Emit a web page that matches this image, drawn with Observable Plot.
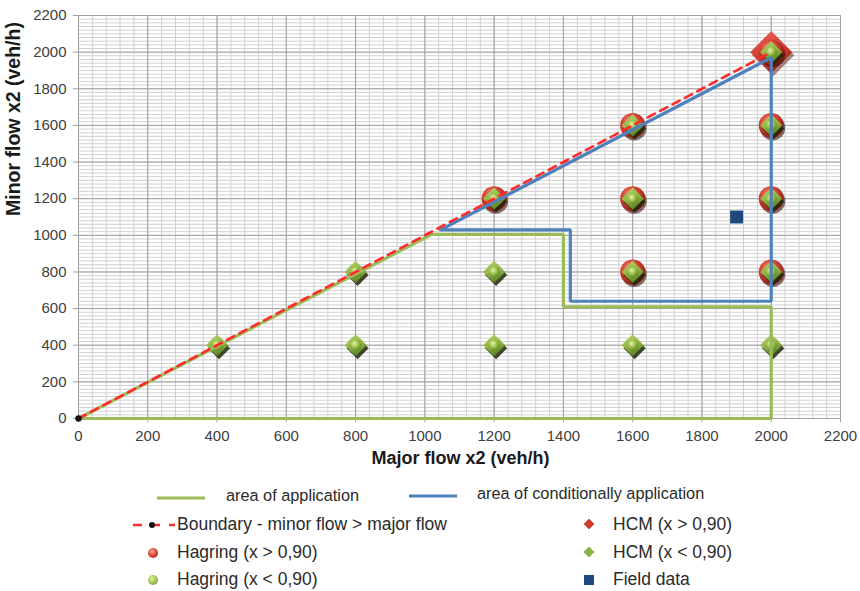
<!DOCTYPE html>
<html><head><meta charset="utf-8">
<script src="https://cdn.jsdelivr.net/npm/d3@7"></script>
<script src="https://cdn.jsdelivr.net/npm/@observablehq/plot@0.6"></script>
<style>
body{margin:0;background:#fff;font-family:"Liberation Sans",Arial,sans-serif;}
#wrap{position:relative;width:860px;height:591px;overflow:hidden;}
.lg{position:absolute;font-size:17.5px;color:#2a2a2a;line-height:1;white-space:nowrap;transform:translateY(-50%);}
.lg.small{font-size:16.3px;}
.sw{position:absolute;transform:translate(-50%,-50%);}
</style></head><body><div id="wrap"></div>
<script>
// ---- data ----
const xTicks = [0,200,400,600,800,1000,1200,1400,1600,1800,2000,2200];
const yTicks = [0,200,400,600,800,1000,1200,1400,1600,1800,2000,2200];
const applicationX = [0,1020,1400,1400,2000,2000,0];
const applicationY = [0,1005,1005,610,610,0,0];
const conditionalX = [1045,1420,1420,2000,2000,1045];
const conditionalY = [1030,1030,640,640,1970,1030];
const boundaryX = [0,2000];
const boundaryY = [0,2000];
const hagringHigh = [[1200,1200],[1600,1600],[1600,1200],[1600,800],[2000,2000],[2000,1600],[2000,1200],[2000,800]];
const hagringLow = [[400,400],[800,400],[800,800],[1200,400],[1200,800],[1600,400],[2000,400]];
const hcmHigh = [[2000,2000]];
const hcmLow = [[400,400],[800,400],[800,800],[1200,400],[1200,800],[1200,1200],[1600,400],[1600,800],[1600,1200],[1600,1600],[2000,400],[2000,800],[2000,1200],[2000,1600],[2000,2000]];
const fieldData = [[1900,1100]];
const legendLabels = ["area of application","area of conditionally application","Boundary - minor flow > major flow","Hagring (x > 0,90)","Hagring (x < 0,90)","HCM (x > 0,90)","HCM (x < 0,90)","Field data"];

const toPts = (xs, ys) => xs.map((x, i) => ({x, y: ys[i]}));
const GREEN = "#9bbb59", BLUE = "#4f81bd", RED = "#ff2a2a", NAVY = "#1f497d";
const tickFont = "'Liberation Sans', Arial, sans-serif";

const chart = Plot.plot({
  width: 860, height: 480,
  marginLeft: 78, marginRight: 20, marginTop: 15, marginBottom: 62,
  x: {domain: [0, 2200]},
  y: {domain: [0, 2200]},
  style: {fontFamily: "'Liberation Sans', Arial, sans-serif", background: "#fff", overflow: "visible"},
  marks: [
    Plot.gridX({interval: 40, stroke: "#d0d0d0", strokeOpacity: 1}),
    Plot.gridY({interval: 20, stroke: "#d0d0d0", strokeOpacity: 1}),
    Plot.gridX(xTicks, {stroke: "#a0a0a0", strokeOpacity: 1}),
    Plot.gridY(yTicks, {stroke: "#a0a0a0", strokeOpacity: 1}),
    Plot.axisX(xTicks, {tickSize: 4, tickPadding: 8, fontSize: 15, fontFamily: tickFont, color: "#404040", stroke: "#a0a0a0", tickFormat: d => String(d), label: null}),
    Plot.axisY(yTicks, {tickSize: 5, tickPadding: 7, fontSize: 15, fontFamily: tickFont, color: "#404040", stroke: "#a0a0a0", tickFormat: d => String(d), label: null}),
    // HCM > 0.90 (large red diamond)
    Plot.dot(hcmHigh, {x: d => d[0], y: d => d[1], symbol: "diamond2", r: 19, fill: "#5a120c", fillOpacity: 0.5, dx: 2, dy: 3}),
    Plot.dot(hcmHigh, {x: d => d[0], y: d => d[1], symbol: "diamond2", r: 19, fill: "url(#gDiaRed)"}),
    // Hagring > 0.90 (red spheres)
    Plot.dot(hagringHigh, {x: d => d[0], y: d => d[1], r: 12.5, fill: "#3a0d08", fillOpacity: 0.6, dx: 1.5, dy: 2.5}),
    Plot.dot(hagringHigh, {x: d => d[0], y: d => d[1], r: 12.5, fill: "url(#gRed)"}),
    // Hagring < 0.90 (green spheres)
    Plot.dot(hagringLow, {x: d => d[0], y: d => d[1], r: 8, fill: "url(#gGreen)"}),
    // HCM < 0.90 (green diamonds)
    Plot.dot(hcmLow, {x: d => d[0], y: d => d[1], symbol: "diamond2", r: 10, fill: "#1e260c", fillOpacity: 0.85, dx: 2, dy: 3}),
    Plot.dot(hcmLow, {x: d => d[0], y: d => d[1], symbol: "diamond2", r: 10, fill: "url(#gDiaGreen)"}),
    Plot.dot(hcmLow, {x: d => d[0], y: d => d[1], r: 5.5, fill: "url(#gGreen)"}),
    // Field data
    Plot.dot(fieldData, {x: d => d[0], y: d => d[1], symbol: "square", r: 7.3, fill: NAVY}),
    // Areas and boundary
    Plot.line(toPts(applicationX, applicationY), {x: "x", y: "y", stroke: GREEN, strokeWidth: 3.2, strokeLinejoin: "miter"}),
    Plot.line(toPts(conditionalX, conditionalY), {x: "x", y: "y", stroke: BLUE, strokeWidth: 3.2, strokeLinejoin: "miter"}),
    Plot.line(toPts(boundaryX, boundaryY), {x: "x", y: "y", stroke: RED, strokeWidth: 2.6, strokeDasharray: "8,6"}),
    Plot.dot([[boundaryX[0], boundaryY[0]]], {x: d => d[0], y: d => d[1], r: 3.2, fill: "#111"}),
    // axis titles
    Plot.text(["Major flow x2 (veh/h)"], {text: d => d, frameAnchor: "bottom", dy: 45, dx: 1, fontSize: 18, fontWeight: "bold", fill: "#1a1a1a"}),
    Plot.text(["Minor flow x2 (veh/h)"], {text: d => d, frameAnchor: "left", dx: -65, dy: -1, rotate: -90, fontSize: 19.5, fontWeight: "bold", fill: "#1a1a1a"})
  ]
});

// gradients for 3D-looking markers
const svg = d3.select(chart);
const defs = svg.insert("defs", ":first-child");
function radial(id, stops) {
  const g = defs.append("radialGradient").attr("id", id).attr("cx", "40%").attr("cy", "35%").attr("r", "65%");
  stops.forEach(([o, c]) => g.append("stop").attr("offset", o).attr("stop-color", c));
}
function linear(id, stops) {
  const g = defs.append("linearGradient").attr("id", id).attr("x1", "0").attr("y1", "0").attr("x2", "0.4").attr("y2", "1");
  stops.forEach(([o, c]) => g.append("stop").attr("offset", o).attr("stop-color", c));
}
radial("gGreen", [["0%", "#e4f2a8"], ["45%", "#a6c857"], ["100%", "#5f8a22"]]);
radial("gRed", [["0%", "#f6a896"], ["45%", "#dc4a3a"], ["100%", "#8e1d12"]]);
linear("gDiaGreen", [["0%", "#b8d66c"], ["60%", "#8fb444"], ["100%", "#5d8424"]]);
linear("gDiaRed", [["0%", "#ec6a5a"], ["60%", "#d23a2c"], ["100%", "#a42418"]]);

const wrap = document.getElementById("wrap");
wrap.appendChild(chart);

// ---- legend (HTML below the SVG) ----
function addText(txt, x, y, cls) {
  const d = document.createElement("div"); d.className = "lg" + (cls ? " " + cls : ""); d.textContent = txt;
  d.style.left = x + "px"; d.style.top = y + "px"; wrap.appendChild(d);
}
function addSwatch(html, x, y) {
  const d = document.createElement("div"); d.className = "sw"; d.innerHTML = html;
  d.style.left = x + "px"; d.style.top = y + "px"; wrap.appendChild(d);
}
const lineSw = c => `<svg width="48" height="4"><line x1="0" x2="48" y1="2" y2="2" stroke="${c}" stroke-width="3"/></svg>`;
addSwatch(lineSw(GREEN), 181, 495); addText(legendLabels[0], 226, 495, "small");
addSwatch(lineSw(BLUE), 433, 493); addText(legendLabels[1], 477, 493, "small");
addSwatch(`<svg width="42" height="10"><line x1="0" x2="42" y1="5" y2="5" stroke="${RED}" stroke-width="2.5" stroke-dasharray="9,9"/><circle cx="19" cy="5" r="3" fill="#111"/></svg>`, 154, 525);
addText(legendLabels[2], 177, 525);
const sphere = (c1, c2, c3) => `<div style="width:10px;height:10px;border-radius:50%;background:radial-gradient(circle at 40% 35%, ${c1}, ${c2} 45%, ${c3})"></div>`;
addSwatch(sphere("#f6a896", "#dc4a3a", "#8e1d12"), 153, 553); addText(legendLabels[3], 177, 553);
addSwatch(sphere("#e4f2a8", "#a6c857", "#5f8a22"), 153, 580); addText(legendLabels[4], 177, 580);
const dia = (c1, c2) => `<svg width="12" height="12"><path d="M6,1L11,6L6,11L1,6Z" fill="${c1}" stroke="${c2}" stroke-width="0.5"/></svg>`;
addSwatch(dia("#d23a2c", "#a42418"), 589, 525); addText(legendLabels[5], 613, 525);
addSwatch(dia("#8fb444", "#5d8424"), 589, 553); addText(legendLabels[6], 613, 553);
addSwatch(`<div style="width:10px;height:10px;background:${NAVY}"></div>`, 589, 580); addText(legendLabels[7], 613, 580);
</script></body></html>
